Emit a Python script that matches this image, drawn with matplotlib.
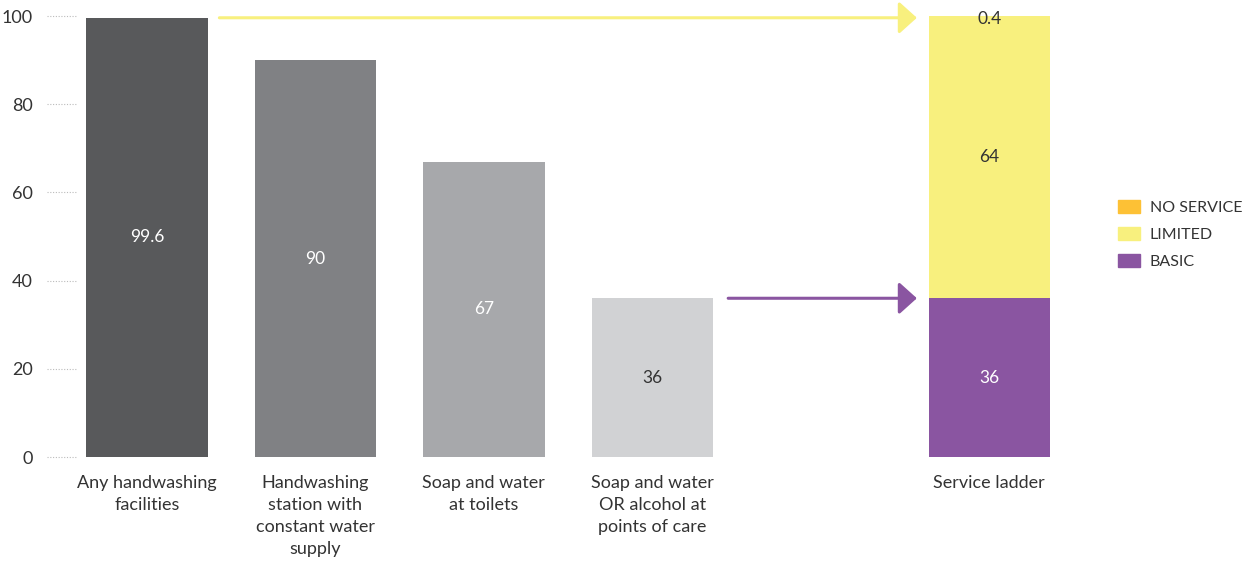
import matplotlib.pyplot as plt
import matplotlib.transforms as mtransforms
from matplotlib.patches import Patch

# data
categories = ['Any handwashing\nfacilities',
              'Handwashing\nstation with\nconstant water\nsupply',
              'Soap and water\nat toilets',
              'Soap and water\nOR alcohol at\npoints of care']
values = [99.6, 90, 67, 36]
ladder_label = 'Service ladder'
ladder_names = ['BASIC', 'LIMITED', 'NO SERVICE']
ladder_values = [36, 64, 0.4]
yticks = [0, 20, 40, 60, 80, 100]

bar_colors = ['#58595b', '#808184', '#a7a8ab', '#d1d2d4']
value_colors = ['white', 'white', 'white', '#333333']
ladder_colors = ['#8a55a1', '#f8f07e', '#fdc135']
ladder_text_colors = ['white', '#333333', '#333333']

plt.rcParams['font.family'] = ['Lato', 'DejaVu Sans']

fig = plt.figure(figsize=(12.47, 5.62), dpi=100)
ax = fig.add_axes([0.0377, 0.1868, 0.8043, 0.7847])

xs = [0, 1, 2, 3]
x_ladder = 5
w = 0.72

ax.bar(xs, values, width=w, color=bar_colors)
for x, v, c in zip(xs, values, value_colors):
    ax.text(x, v / 2, f'{v:g}', ha='center', va='center', color=c, fontsize=12.5)

bottom = 0
for name, v, col, tc in zip(ladder_names, ladder_values, ladder_colors, ladder_text_colors):
    ax.bar(x_ladder, v, width=w, bottom=bottom, color=col)
    ypos = bottom + v / 2 if v > 5 else bottom - 0.6
    ax.text(x_ladder, ypos, f'{v:g}', ha='center', va='center', color=tc, fontsize=12.5)
    bottom += v

# arrows from bars into the ladder
arrow_style = '-|>,head_length=0.5,head_width=0.45'
ax.annotate('', xy=(x_ladder - w / 2 - 0.07, values[0]), xytext=(0.43, values[0]),
            arrowprops=dict(arrowstyle=arrow_style, color='#f8f07e', lw=2.2,
                            shrinkA=0, shrinkB=0, mutation_scale=22))
ax.annotate('', xy=(x_ladder - w / 2 - 0.07, ladder_values[0]), xytext=(3.45, ladder_values[0]),
            arrowprops=dict(arrowstyle=arrow_style, color='#8a55a1', lw=2.2,
                            shrinkA=0, shrinkB=0, mutation_scale=22))

ax.set_xlim(-0.593, 5.36)
ax.set_ylim(0, 100)
ax.set_xticks(xs + [x_ladder])
ax.set_xticklabels(categories + [ladder_label], fontsize=13, color='#333333',
                   va='top', linespacing=1.45)
ax.tick_params(axis='x', length=0, pad=13)
ax.set_yticks(yticks)
ax.set_yticklabels([str(t) for t in yticks], fontsize=13, color='#333333')
ax.tick_params(axis='y', length=0, pad=10)
for s in ax.spines.values():
    s.set_visible(False)

# dotted tick guides
trans = mtransforms.blended_transform_factory(ax.transAxes, ax.transData)
for t in yticks:
    ax.plot([0, 0.03], [t, t], transform=trans, color='#bbbbbb', lw=0.8,
            linestyle=(0, (1, 1.5)), clip_on=False)

handles = [Patch(color=c, label=n) for c, n in zip(ladder_colors[::-1], ladder_names[::-1])]
leg = fig.legend(handles=handles, loc='upper left', bbox_to_anchor=(0.885, 0.67),
                 frameon=False, fontsize=11.5, handlelength=1.4, handleheight=0.9,
                 handletextpad=0.6, labelspacing=0.75)
for t in leg.get_texts():
    t.set_color('#333333')

fig.savefig('out.png', dpi=100)
